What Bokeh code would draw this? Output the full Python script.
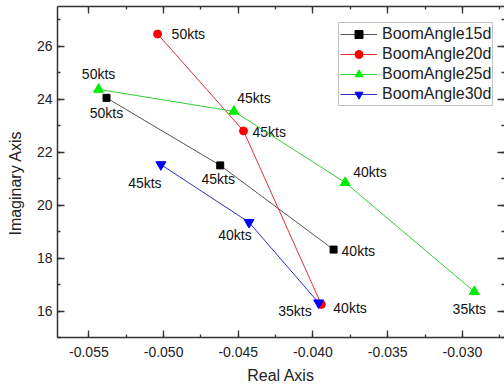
from bokeh.plotting import figure
from bokeh.models import (LinearAxis, SingleIntervalTicker, NumeralTickFormatter,
                          CustomJSTickFormatter, Range1d, Legend, LegendItem, ColumnDataSource)
from bokeh.core.properties import value
from bokeh.embed import file_html
from bokeh.resources import INLINE

# ---- data ----
x15 = [-0.05382, -0.04621, -0.03862]
y15 = [24.05, 21.50, 18.32]
s15 = ["50kts", "45kts", "40kts"]

x20 = [-0.05040, -0.04465, -0.03944]
y20 = [26.46, 22.80, 16.25]
s20 = ["50kts", "45kts", "40kts"]

x25 = [-0.05435, -0.04529, -0.03784, -0.02920]
y25 = [24.37, 23.54, 20.85, 16.73]
s25 = ["50kts", "45kts", "40kts", "35kts"]

x30 = [-0.05018, -0.04428, -0.03962]
y30 = [21.53, 19.35, 16.31]
s30 = ["45kts", "40kts", "35kts"]

series_names = ["BoomAngle15d", "BoomAngle20d", "BoomAngle25d", "BoomAngle30d"]

# ---- label placement (style only) ----
lab15 = dict(align=["center", "center", "left"], dx=[0, -2, 8], dy=[15, 14, 1])
lab20 = dict(align=["left", "left", "left"], dx=[14, 9, 12], dy=[0, 1, 4])
lab25 = dict(align=["center", "center", "left", "center"], dx=[0, 20, 8, -5], dy=[-15, -13, -11, 17])
lab30 = dict(align=["center", "center", "right"], dx=[-16, -14, -7], dy=[18, 13, 8])

FONT = "Liberation Sans"

p = figure(width=504, height=387, output_backend="svg", toolbar_location=None,
           x_range=Range1d(-0.0571, -0.02718), y_range=Range1d(15, 27.5),
           min_border_left=57, min_border_right=0, min_border_top=6, min_border_bottom=50,
           background_fill_color="white", border_fill_color="white")
p.outline_line_color = None
p.grid.visible = False

xt = SingleIntervalTicker(interval=0.005, num_minor_ticks=2)
yt = SingleIntervalTicker(interval=2, num_minor_ticks=2)

bottom = p.xaxis[0]
left = p.yaxis[0]

bottom.ticker = xt
bottom.formatter = NumeralTickFormatter(format="0.000")
bottom.axis_label = "Real Axis"
bottom.major_label_standoff = 9
bottom.axis_label_standoff = 7

left.ticker = yt
left.axis_label = "Imaginary Axis" + "\u00a0" * 5
left.major_label_standoff = 5
left.axis_label_standoff = 10

blank = CustomJSTickFormatter(code="return '';")
top = LinearAxis(ticker=xt, formatter=blank)
right = LinearAxis(ticker=yt, formatter=blank)
p.add_layout(top, "above")
p.add_layout(right, "right")

for ax in [bottom, left, top, right]:
    ax.axis_line_color = "#333333"
    ax.axis_line_width = 1.5
    ax.major_tick_line_color = "#333333"
    ax.minor_tick_line_color = "#333333"
    ax.major_tick_line_width = 1.3
    ax.minor_tick_line_width = 1.3
    ax.major_tick_in = 7
    ax.major_tick_out = 0
    ax.minor_tick_in = 3
    ax.minor_tick_out = 0
    ax.major_label_text_font = FONT
    ax.major_label_text_font_size = "14px"
    ax.major_label_text_color = "#222222"
    ax.axis_label_text_font = FONT
    ax.axis_label_text_font_size = "16px"
    ax.axis_label_text_font_style = "normal"
    ax.axis_label_text_color = "#222222"

for ax in [top, right]:
    ax.major_label_standoff = 0
    ax.axis_label = None
right.axis_line_alpha = 0

specs = [
    (x15, y15, s15, lab15, "black", "square", 7),
    (x20, y20, s20, lab20, "red", "circle", 8),
    (x25, y25, s25, lab25, "#00ee00", "triangle", 10),
    (x30, y30, s30, lab30, "blue", "inverted_triangle", 10),
]
line_cols = ["#555555", "#e03030", "#30d030", "#3030c0"]

items = []
for (xs, ys, ss, lab, col, mk, sz), lc, name in zip(specs, line_cols, series_names):
    src = ColumnDataSource(dict(x=xs, y=ys, t=ss, a=lab["align"], dx=lab["dx"], dy=lab["dy"]))
    r1 = p.line("x", "y", source=src, line_color=lc, line_width=1)
    r2 = p.scatter("x", "y", source=src, marker=mk, size=sz, fill_color=col, line_color=col)
    p.text("x", "y", text="t", source=src, text_align="a", x_offset="dx", y_offset="dy",
           text_baseline="middle", text_font=value(FONT), text_font_size="14px",
           text_color="#111111")
    items.append(LegendItem(label=name, renderers=[r1, r2]))

legend = Legend(items=items, location=(281, 231), orientation="vertical",
                label_text_font=FONT, label_text_font_size="16px", label_text_color="#222222",
                glyph_width=37, glyph_height=20, label_height=20, label_standoff=5,
                spacing=0, padding=1, margin=0,
                border_line_color="#888888", border_line_width=1,
                background_fill_color="white", background_fill_alpha=1)
p.add_layout(legend, "center")

open("out.html", "w").write(file_html(p, INLINE))
